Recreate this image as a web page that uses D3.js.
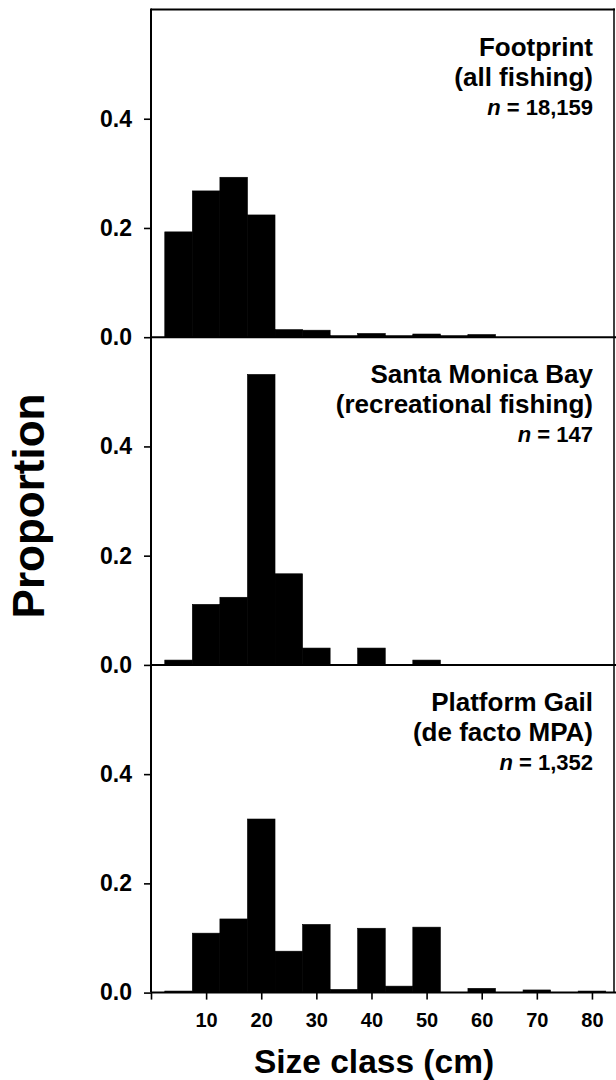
<!DOCTYPE html>
<html>
<head>
<meta charset="utf-8">
<script src="https://cdn.jsdelivr.net/npm/d3@7.9.0/dist/d3.min.js"></script>
<style>
  body { margin: 0; background: #fff; }
  svg { display: block; font-family: "Liberation Sans", Arial, sans-serif; font-weight: bold; }
</style>
</head>
<body>
<svg id="chart" width="616" height="1080"></svg>
<script>
// size classes (bin centres, cm), 5 cm wide bins
const sizeClasses = [5, 10, 15, 20, 25, 30, 35, 40, 45, 50, 55, 60, 65, 70, 75, 80];

// proportions per size class
const footprint    = [0.191, 0.266, 0.291, 0.222, 0.012, 0.011, 0.001, 0.005, 0.001, 0.004, 0.001, 0.003, 0, 0, 0, 0];
const santaMonica  = [0.007, 0.109, 0.122, 0.530, 0.165, 0.029, 0, 0.029, 0, 0.007, 0, 0, 0, 0, 0, 0];
const platformGail = [0.001, 0.107, 0.133, 0.316, 0.074, 0.123, 0.004, 0.116, 0.010, 0.118, 0, 0.006, 0, 0.003, 0, 0.001];

const panelNames = ["Footprint", "Santa Monica Bay", "Platform Gail"];
const panelSubs  = ["(all fishing)", "(recreational fishing)", "(de facto MPA)"];
const panelN     = ["18,159", "147", "1,352"];
const yTicks = [0, 0.2, 0.4];
const xTicks = [0, 10, 20, 30, 40, 50, 60, 70, 80];

const series = [footprint, santaMonica, platformGail];

const svg = d3.select('#chart');
const left = 151, right = 614;
const top0 = 9.5, panelH = 327.7;

const x = d3.scaleLinear().domain([0, 84]).range([left, right]);

series.forEach((values, i) => {
    const pTop = top0 + i * panelH;
    const pBot = pTop + panelH;
    const y = d3.scaleLinear().domain([0, 0.6]).range([pBot, pTop]);

    const g = svg.append('g');

    // bars
    g.selectAll('rect')
        .data(sizeClasses.map((c, k) => ({ c, v: values[k] })).filter(d => d.v > 0))
        .join('rect')
        .attr('x', d => x(d.c - 2.5))
        .attr('width', d => x(d.c + 2.5) - x(d.c - 2.5))
        .attr('y', d => y(d.v) - 1)
        .attr('height', d => pBot - y(d.v) + 1)
        .attr('fill', '#000')
        .attr('stroke', '#000').attr('stroke-width', 0.6);

    // baseline
    g.append('line')
        .attr('x1', left).attr('x2', 616)
        .attr('y1', pBot).attr('y2', pBot)
        .attr('stroke', '#000').attr('stroke-width', 2);

    // y axis ticks + labels
    const yAxis = d3.axisLeft(y).tickValues(yTicks).tickFormat(d3.format('.1f'))
        .tickSize(7).tickPadding(12);
    const ga = g.append('g').attr('transform', `translate(${left},0)`).call(yAxis);
    ga.select('.domain').remove();
    ga.selectAll('line').attr('stroke', '#000').attr('stroke-width', 1.6);
    ga.selectAll('text').attr('font-size', 23).attr('fill', '#000')
        .attr('font-family', '"Liberation Sans", Arial, sans-serif').attr('font-weight', 'bold');

    // panel label
    const tx = 593;
    g.append('text').attr('x', tx).attr('y', pTop + 46)
        .attr('text-anchor', 'end').attr('font-size', 26).text(panelNames[i]);
    g.append('text').attr('x', tx).attr('y', pTop + 76)
        .attr('text-anchor', 'end').attr('font-size', 26).text(panelSubs[i]);
    const t3 = g.append('text').attr('x', tx).attr('y', pTop + 105)
        .attr('text-anchor', 'end').attr('font-size', 22);
    t3.append('tspan').attr('font-style', 'italic').text('n');
    t3.append('tspan').text(' = ' + panelN[i]);
});

const bottom = top0 + 3 * panelH;

// frame: top line, left axis, right edge
svg.append('line').attr('x1', left).attr('x2', right + 1).attr('y1', top0).attr('y2', top0)
    .attr('stroke', '#000').attr('stroke-width', 2);
svg.append('line').attr('x1', left).attr('x2', left).attr('y1', top0 - 1).attr('y2', bottom)
    .attr('stroke', '#000').attr('stroke-width', 2);
svg.append('line').attr('x1', right).attr('x2', right).attr('y1', top0 - 1).attr('y2', bottom)
    .attr('stroke', '#000').attr('stroke-width', 1.5);

// x axis
const xAxis = d3.axisBottom(x).tickValues(xTicks).tickFormat(d => d === 0 ? '' : d)
    .tickSize(7).tickPadding(13);
const gx = svg.append('g').attr('transform', `translate(0,${bottom})`).call(xAxis);
gx.select('.domain').remove();
gx.selectAll('line').attr('stroke', '#000').attr('stroke-width', 1.6);
gx.selectAll('text').attr('font-size', 20).attr('fill', '#000')
    .attr('font-family', '"Liberation Sans", Arial, sans-serif').attr('font-weight', 'bold');

// axis titles
svg.append('text').attr('x', 374).attr('y', 1073)
    .attr('text-anchor', 'middle').attr('font-size', 33.5).text('Size class (cm)');
svg.append('text').attr('transform', 'translate(44,506) rotate(-90)')
    .attr('text-anchor', 'middle').attr('font-size', 44).text('Proportion');
</script>
</body>
</html>
